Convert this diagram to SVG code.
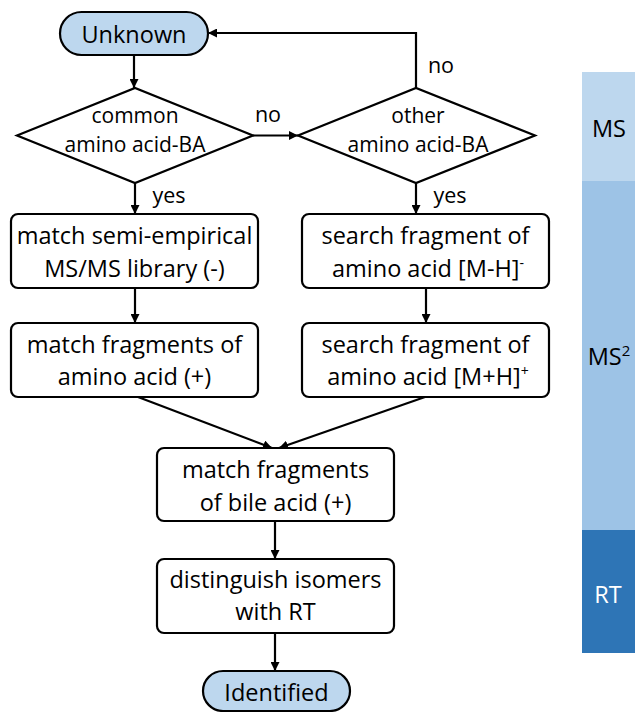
<svg xmlns="http://www.w3.org/2000/svg" width="635" height="712" viewBox="0 0 635 712">
<style>
  text { font-family: "Open Sans", "Liberation Sans", sans-serif; fill: #000; text-anchor: middle; }
  .box { fill: #fff; stroke: #000; stroke-width: 2.2; }
  .pill { fill: #BDD7EE; stroke: #000; stroke-width: 2.2; }
  .dia { fill: #fff; stroke: #000; stroke-width: 2.2; }
  .t { font-size: 23.5px; }
  .d { font-size: 21px; }
  .lbl { font-size: 21.5px; }
  .band { font-size: 23.5px; }
  .con { fill: none; stroke: #000; stroke-width: 2.2; marker-end: url(#ah); }
</style>
<defs>
  <marker id="ah" viewBox="0 0 10 10" refX="10" refY="5" markerWidth="9" markerHeight="9" markerUnits="userSpaceOnUse" orient="auto">
    <path d="M0,0 L10,5 L0,10 z" fill="#000"/>
  </marker>
</defs>
<rect width="635" height="712" fill="#fff"/>

<g id="bands">
  <rect x="582" y="72" width="53" height="109" fill="#BDD7EE"/>
  <rect x="582" y="181" width="53" height="349" fill="#9DC3E6"/>
  <rect x="582" y="530" width="53" height="123" fill="#2E75B6"/>
  <text class="band" x="609" y="137">MS</text>
  <text class="band" x="609" y="365">MS<tspan font-size="15" dy="-9">2</tspan></text>
  <text class="band" x="608" y="603" style="fill:#fff">RT</text>
</g>

<g id="connectors">
  <line class="con" x1="134" y1="55" x2="134" y2="88"/>
  <line class="con" x1="253" y1="135.5" x2="298" y2="135.5"/>
  <path class="con" d="M416,88 V33 H208"/>
  <line class="con" x1="135" y1="183" x2="135" y2="214"/>
  <line class="con" x1="416" y1="183" x2="416" y2="214"/>
  <line class="con" x1="135" y1="288" x2="135" y2="323"/>
  <line class="con" x1="426" y1="288" x2="426" y2="323"/>
  <line class="con" x1="138" y1="397" x2="272" y2="448"/>
  <line class="con" x1="425" y1="397" x2="279" y2="448"/>
  <line class="con" x1="275" y1="521" x2="275" y2="559"/>
  <line class="con" x1="275" y1="633" x2="275" y2="671"/>
  <text class="lbl" x="268" y="122">no</text>
  <text class="lbl" x="441" y="73">no</text>
  <text class="lbl" x="169" y="203">yes</text>
  <text class="lbl" x="450" y="203">yes</text>
</g>

<g id="unknown">
  <rect class="pill" x="60" y="12" width="148" height="43" rx="21.5"/>
  <text class="t" x="134" y="43">Unknown</text>
</g>

<g id="common">
  <polygon class="dia" points="17,135.5 135,88 253,135.5 135,183"/>
  <text class="d" x="135" y="123">common</text>
  <text class="d" x="135" y="152">amino acid-BA</text>
</g>

<g id="other">
  <polygon class="dia" points="298,135.5 416,88 535,135.5 416,183"/>
  <text class="d" x="418" y="123">other</text>
  <text class="d" x="418" y="152">amino acid-BA</text>
</g>

<g id="match-library">
  <rect class="box" x="11" y="214" width="247" height="74" rx="7"/>
  <text class="t" x="134.5" y="244">match semi-empirical</text>
  <text class="t" x="134.5" y="277">MS/MS library (-)</text>
</g>

<g id="match-aa">
  <rect class="box" x="11" y="323" width="247" height="74" rx="7"/>
  <text class="t" x="134.5" y="353">match fragments of</text>
  <text class="t" x="134.5" y="385">amino acid (+)</text>
</g>

<g id="search-neg">
  <rect class="box" x="302" y="214" width="247" height="74" rx="7"/>
  <text class="t" x="425.5" y="244">search fragment of</text>
  <text class="t" x="428" y="277">amino acid [M-H]<tspan font-size="14" dy="-9">-</tspan></text>
</g>

<g id="search-pos">
  <rect class="box" x="302" y="323" width="247" height="74" rx="7"/>
  <text class="t" x="425.5" y="353">search fragment of</text>
  <text class="t" x="428" y="385">amino acid [M+H]<tspan font-size="14" dy="-9">+</tspan></text>
</g>

<g id="match-ba">
  <rect class="box" x="157" y="448" width="237" height="73" rx="7"/>
  <text class="t" x="275.5" y="478">match fragments</text>
  <text class="t" x="275.5" y="511">of bile acid (+)</text>
</g>

<g id="isomers">
  <rect class="box" x="157" y="559" width="237" height="74" rx="7"/>
  <text class="t" x="275.5" y="588">distinguish isomers</text>
  <text class="t" x="275.5" y="620">with RT</text>
</g>

<g id="identified">
  <rect class="pill" x="203" y="671" width="147" height="40" rx="20"/>
  <text class="t" x="276.5" y="701">Identified</text>
</g>
</svg>
